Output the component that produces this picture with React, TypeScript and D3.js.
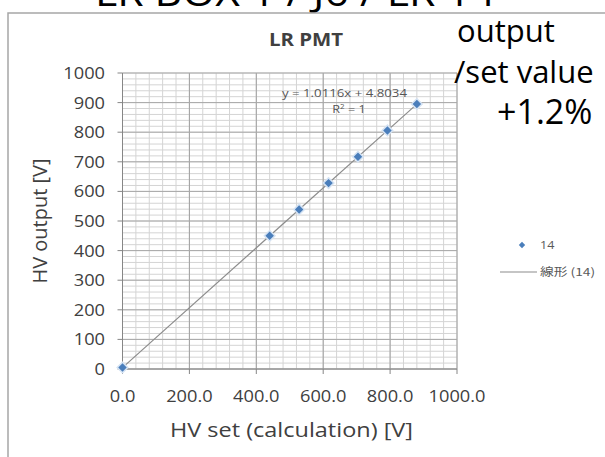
import React from "react";
import * as d3 from "d3";

const setValues = [0, 440, 528, 616, 704, 792, 880];
const outputValues = [5, 450, 539, 628, 717, 806, 895];
const xTicks = [0, 200, 400, 600, 800, 1000];
const yTicks = [0, 100, 200, 300, 400, 500, 600, 700, 800, 900, 1000];
const fitSlope = 1.0116;
const fitIntercept = 4.8034;
const seriesName = "14";
const trendName = "線形 (14)";

const W = 605;
const H = 457;
const FONT = "'Open Sans', 'Noto Sans', sans-serif";
const SX = 1.14; // horizontal stretch of the pasted chart

export default function App() {
  const x = d3.scaleLinear().domain([0, 1000]).range([122.5, 457]);
  const y = d3.scaleLinear().domain([0, 1000]).range([369, 73]);
  const minorX = d3.range(0, 1001, 40);
  const minorY = d3.range(0, 1001, 20);
  const pts = setValues.map((v, i) => ({ sx: v, oy: outputValues[i] }));
  const xMax = d3.max(setValues) as number;
  const line = d3
    .line<number>()
    .x((d) => x(d))
    .y((d) => y(fitSlope * d + fitIntercept));
  const marker = d3.symbol(d3.symbolSquare, 56)();
  const legendMarker = d3.symbol(d3.symbolSquare, 20)();
  const [x0, x1] = x.range();
  const [y0, y1] = y.range();

  return (
    <svg
      width={W}
      height={H}
      style={{ position: "absolute", left: 0, top: 0, background: "#fff" }}
    >
      <rect x={0} y={0} width={W} height={H} fill="#fff" />
      {/* slide title partially cut */}
      <text x={95} y={6} fontFamily={FONT} fontSize={38} fill="#000" textLength={400} lengthAdjust="spacingAndGlyphs">
        LR BOX 1 / J6 / LR 14
      </text>
      {/* chart border */}
      <rect x={8} y={13} width={640} height={520} fill="#fff" stroke="#a6a6a6" strokeWidth={1.5} />
      {/* minor grid */}
      {minorX.map((v) => (
        <line key={"mx" + v} x1={x(v)} x2={x(v)} y1={y1} y2={y0} stroke="#d4d4d4" strokeWidth={1} />
      ))}
      {minorY.map((v) => (
        <line key={"my" + v} x1={x0} x2={x1} y1={y(v)} y2={y(v)} stroke="#d4d4d4" strokeWidth={1} />
      ))}
      {/* major grid */}
      {xTicks.map((v) => (
        <line key={"Mx" + v} x1={x(v)} x2={x(v)} y1={y1} y2={y0} stroke="#a0a0a0" strokeWidth={1} />
      ))}
      {yTicks.map((v) => (
        <line key={"My" + v} x1={x0} x2={x1} y1={y(v)} y2={y(v)} stroke="#a8a8a8" strokeWidth={1} />
      ))}
      {/* axes */}
      <line x1={x0} x2={x1} y1={y0} y2={y0} stroke="#868686" />
      <line x1={x0} x2={x0} y1={y0} y2={y1} stroke="#868686" />
      {xTicks.map((v) => (
        <line key={"tx" + v} x1={x(v)} x2={x(v)} y1={y0} y2={y0 + 5} stroke="#868686" />
      ))}
      {yTicks.map((v) => (
        <line key={"ty" + v} x1={x0 - 5} x2={x0} y1={y(v)} y2={y(v)} stroke="#868686" />
      ))}
      {xTicks.map((v) => (
        <g key={"lx" + v} transform={`translate(${x(v)},${y0 + 33}) scale(${SX},1)`}>
          <text textAnchor="middle" fontFamily={FONT} fontSize={16} fill="#404040">
            {v.toFixed(1)}
          </text>
        </g>
      ))}
      {yTicks.map((v) => (
        <g key={"ly" + v} transform={`translate(105,${y(v) + 6}) scale(${SX},1)`}>
          <text textAnchor="end" fontFamily={FONT} fontSize={16} fill="#404040">
            {v}
          </text>
        </g>
      ))}
      {/* trend line */}
      <path d={line([0, xMax]) || ""} fill="none" stroke="#8c8c8c" strokeWidth={1.2} />
      {/* points */}
      {pts.map((p, i) => (
        <path
          key={"p" + i}
          d={marker || ""}
          transform={`translate(${x(p.sx)},${y(p.oy)}) rotate(45)`}
          fill="#4a7ebb"
          stroke="#d5e3f3"
          strokeWidth={1.5}
        />
      ))}
      {/* chart title */}
      <g transform={`translate(306,46) scale(1.2,1)`}>
        <text textAnchor="middle" fontFamily={FONT} fontSize={17} fontWeight="bold" fill="#404040">
          LR PMT
        </text>
      </g>
      {/* axis titles */}
      <text
        x={170}
        y={437}
        fontFamily={FONT}
        fontSize={20}
        fill="#404040"
        textLength={243}
        lengthAdjust="spacingAndGlyphs"
      >
        HV set (calculation) [V]
      </text>
      <text
        transform={`translate(47,${(y0 + y1) / 2}) rotate(-90)`}
        textAnchor="middle"
        fontFamily={FONT}
        fontSize={20}
        fill="#404040"
      >
        HV output [V]
      </text>
      {/* equation */}
      <text x={282} y={97} fontFamily={FONT} fontSize={11} fill="#555" textLength={125} lengthAdjust="spacingAndGlyphs">
        {`y = ${fitSlope}x + ${fitIntercept}`}
      </text>
      <g transform="translate(349,113) scale(1.15,1)">
        <text textAnchor="middle" fontFamily={FONT} fontSize={11} fill="#555">
          R<tspan dy={-4} fontSize={7}>2</tspan>
          <tspan dy={4}> = 1</tspan>
        </text>
      </g>
      {/* legend */}
      <path d={legendMarker || ""} transform="translate(522,245) rotate(45)" fill="#4a7ebb" />
      <g transform={`translate(540,249) scale(${SX},1)`}>
        <text fontFamily={FONT} fontSize={11} fill="#595959">
          {seriesName}
        </text>
      </g>
      <line x1={500} x2={537} y1={272} y2={272} stroke="#8c8c8c" strokeWidth={1.2} />
      <g transform={`translate(540,276) scale(1.25,1)`}>
        <text fontFamily="'Noto Sans CJK JP', sans-serif" fontSize={11} fill="#595959">
          {trendName}
        </text>
      </g>
      {/* slide annotations */}
      <text x={457} y={42} fontFamily={FONT} fontSize={31} fill="#000">
        output
      </text>
      <text x={454} y={83} fontFamily={FONT} fontSize={31} fill="#000">
        /set value
      </text>
      <text x={497} y={124} fontFamily={FONT} fontSize={34} fill="#000">
        +1.2%
      </text>
    </svg>
  );
}
